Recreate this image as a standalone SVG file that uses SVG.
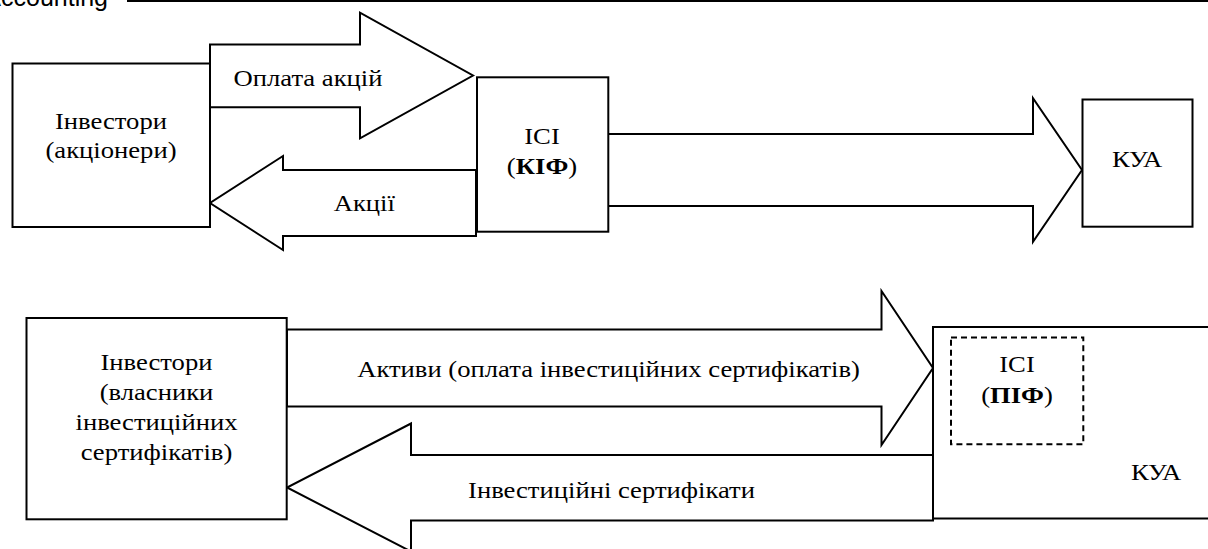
<svg xmlns="http://www.w3.org/2000/svg" width="1208" height="549" viewBox="0 0 1208 549">
<defs>
<style>
  .box { fill: #fff; stroke: #000; stroke-width: 2; }
  .dash { fill: none; stroke: #000; stroke-width: 2; stroke-dasharray: 6 4; }
  .arrow { fill: #fff; stroke: #000; stroke-width: 2; stroke-linejoin: miter; }
</style>
</defs>
<rect width="1208" height="549" fill="#fff"/>
<g id="header">
  <text x="108" y="5.5" font-family="'Liberation Sans', Arial, sans-serif" font-size="25" text-anchor="end" fill="#000">Accounting</text>
  <line x1="127" y1="1" x2="1208" y2="1" stroke="#000" stroke-width="2"/>
</g>
<g id="connectors">
  <polygon class="arrow" points="210,44.5 360,44.5 360,12.7 473,75.5 360,138.3 360,107.3 210,107.3"/>
  <polygon class="arrow" points="476,170 283,170 283,156 210,203 283,250 283,236 476,236"/>
  <polygon class="arrow" points="607,134 1033,134 1033,98.3 1082,170 1033,241.7 1033,206 607,206"/>
  <polygon class="arrow" points="287,329.5 881.5,329.5 881.5,291 933,368 881.5,445 881.5,406.5 287,406.5"/>
  <polygon class="arrow" points="933,455 411,455 411,423.5 287,487.5 411,551.5 411,520.5 933,520.5"/>
</g>
<g font-family="'Liberation Serif', 'Times New Roman', serif" font-size="24" text-anchor="middle" fill="#000">
<g id="investors-top">
  <rect class="box" x="12.5" y="63.5" width="197.5" height="163.5"/>
  <text transform="matrix(1.11 0 0 1 111 128.5)">Інвестори</text>
  <text transform="matrix(1.11 0 0 1 111 157.5)">(акціонери)</text>
</g>
<g id="ici-kif">
  <rect class="box" x="477" y="77.3" width="131.3" height="154.4"/>
  <text transform="matrix(1.11 0 0 1 542 144)">ІСІ</text>
  <text transform="matrix(1.11 0 0 1 542 174)">(<tspan font-weight="bold">КІФ</tspan>)</text>
</g>
<g id="kua-top">
  <rect class="box" x="1082.5" y="99.5" width="110" height="127.2"/>
  <text transform="matrix(1.11 0 0 1 1137 167.3)">КУА</text>
</g>
<g id="investors-bottom">
  <rect class="box" x="26.5" y="318" width="260.2" height="201.3"/>
  <text transform="matrix(1.11 0 0 1 156.5 370)">Інвестори</text>
  <text transform="matrix(1.11 0 0 1 156.5 400)">(власники</text>
  <text transform="matrix(1.11 0 0 1 156.5 430)">інвестиційних</text>
  <text transform="matrix(1.11 0 0 1 156.5 460)">сертифікатів)</text>
</g>
<g id="kua-bottom">
  <rect class="box" x="933" y="327" width="280" height="191.5"/>
  <text transform="matrix(1.11 0 0 1 1156 480)">КУА</text>
</g>
<g id="ici-pif">
  <rect class="dash" x="951" y="337.5" width="132.3" height="106.8"/>
  <text transform="matrix(1.11 0 0 1 1017 371.5)">ІСІ</text>
  <text transform="matrix(1.11 0 0 1 1017 402.5)">(<tspan font-weight="bold">ПІФ</tspan>)</text>
</g>
<g id="labels">
  <text transform="matrix(1.11 0 0 1 308 86)">Оплата акцій</text>
  <text transform="matrix(1.11 0 0 1 364.3 211)">Акції</text>
  <text transform="matrix(1.11 0 0 1 608.5 376.5)">Активи (оплата інвестиційних сертифікатів)</text>
  <text transform="matrix(1.11 0 0 1 611.5 498)">Інвестиційні сертифікати</text>
</g>
</g>
</svg>
